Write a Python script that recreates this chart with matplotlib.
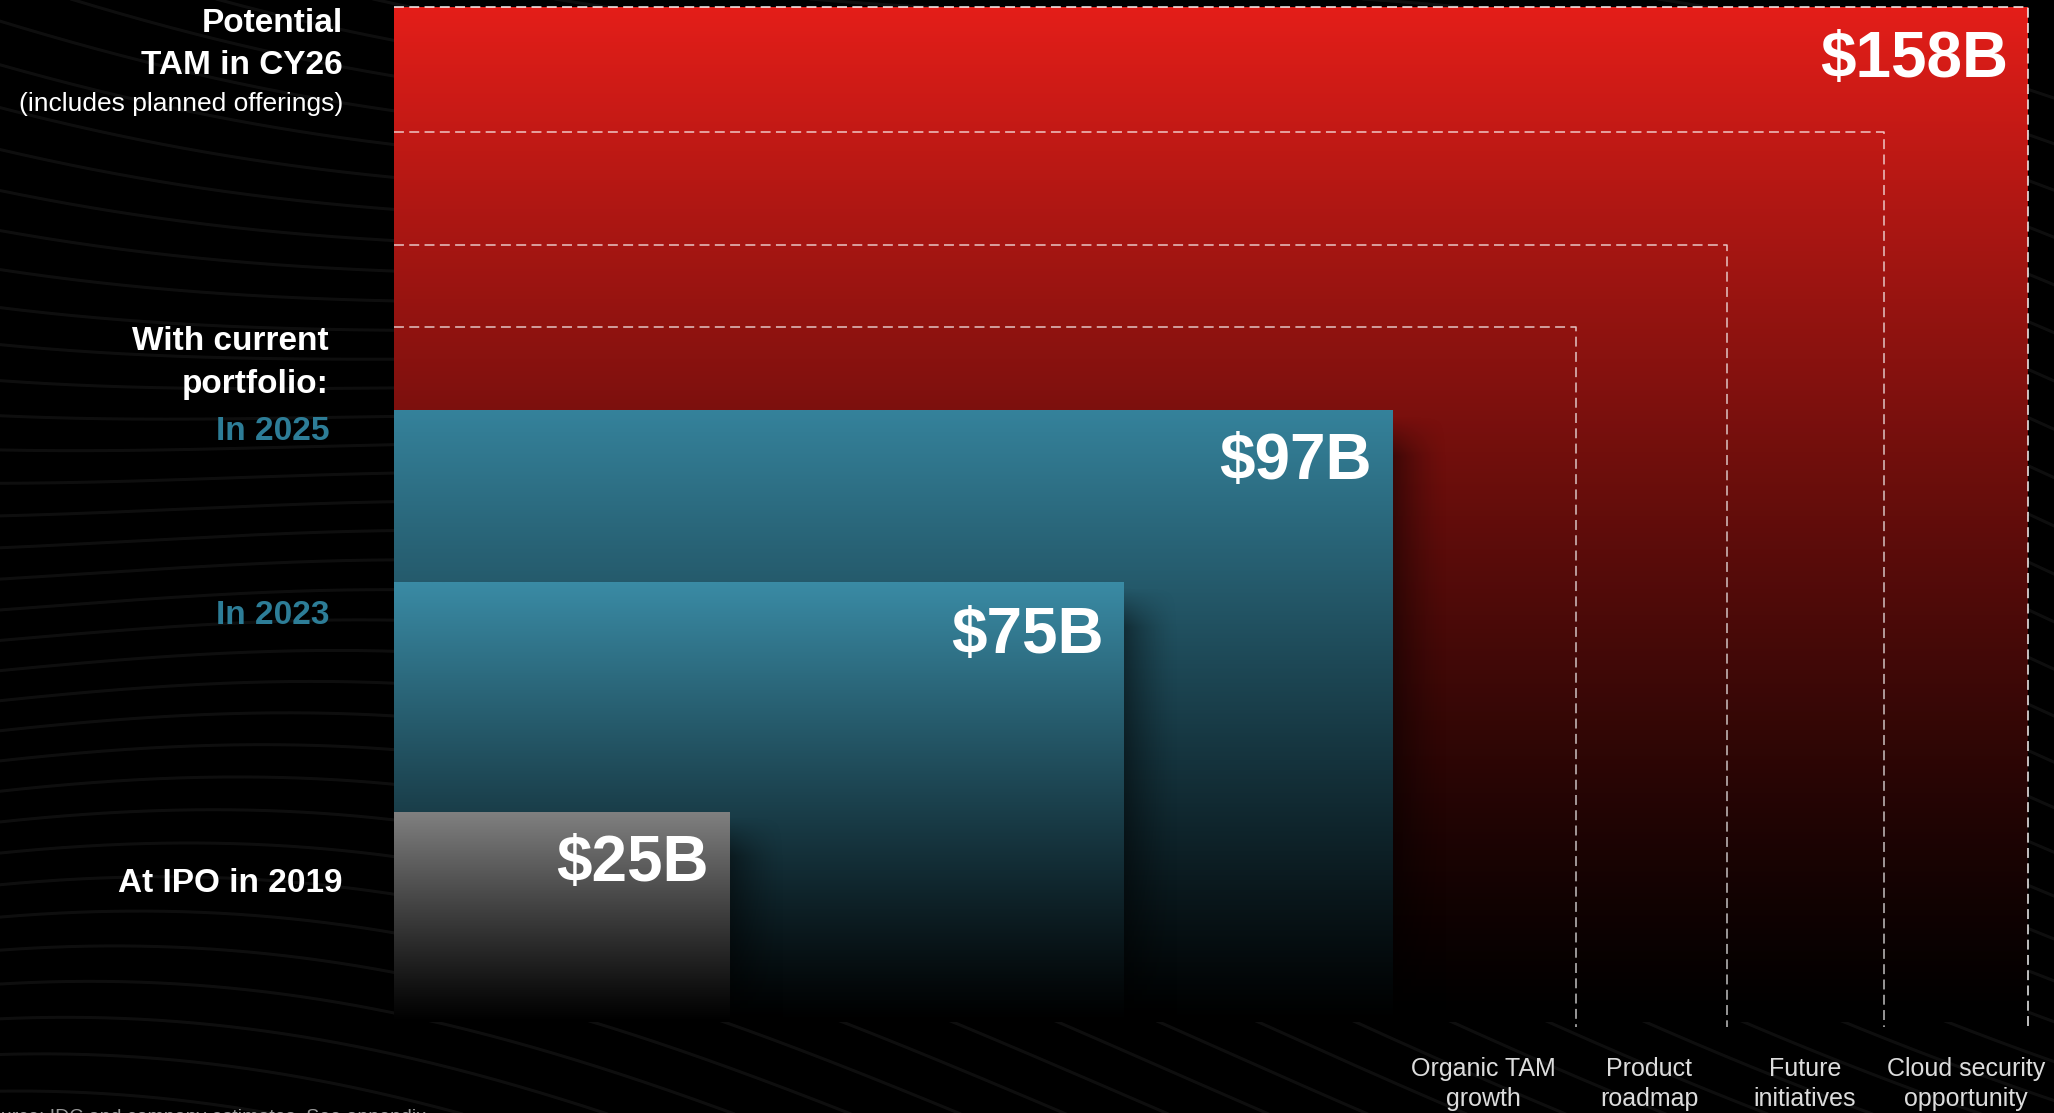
import numpy as np
import matplotlib.pyplot as plt
from matplotlib.colors import to_rgb

# values and labels
tam_values = [158, 97, 75, 25]
value_labels = ['$158B', '$97B', '$75B', '$25B']
driver_labels = ['Organic TAM\ngrowth', 'Product\nroadmap', 'Future\ninitiatives',
                 'Cloud security\nopportunity']
source_text = 'Source: IDC and company estimates. See appendix.'

# layout in pixel coordinates of the slide
W, H = 2054, 1113
left = 394
base = 1022
box_right = [2028, 1393, 1124, 730]
box_top = [7, 410, 582, 812]
box_color = ['#e41e19', '#35829b', '#3a8ba5', '#808080']
step_top = [7, 132, 245, 327]
step_right = [2028, 1884, 1727, 1576]
driver_x = [1483, 1649, 1805, 1966]

fig = plt.figure(figsize=(W / 100, H / 100), dpi=100, facecolor='black')
ax = fig.add_axes([0, 0, 1, 1])
ax.set_facecolor('black')
ax.set_xlim(0, W)
ax.set_ylim(H, 0)
ax.axis('off')

# faint wavy lines in the background
xs = np.linspace(-50, W + 50, 600)
for k in range(42):
    ys = -300 + k * 36 + 0.22 * xs + 70 * np.sin(xs / 380 + k * 0.12) + 0.00006 * (xs - 900) ** 2 * (k / 20)
    ax.plot(xs, ys, color='white', alpha=0.06, lw=2.2, zorder=0, solid_capstyle='round')


def gradient_box(x0, x1, top, color, z, power=1.15):
    n = 400
    f = np.linspace(0, 1, n)
    scale = (1 - f) ** power
    rgb = np.array(to_rgb(color))
    img = np.ones((n, 1, 3)) * rgb[None, None, :] * scale[:, None, None]
    ax.imshow(img, extent=(x0, x1, base, top), origin='upper', aspect='auto',
              interpolation='bilinear', zorder=z)


def shadow(x0, top, z, width=55, strength=0.45):
    n = 200
    ax_h = np.clip(np.linspace(0, (base - top) / 40, n), 0, 1)
    a = strength * (1 - np.linspace(0, 1, n)) ** 1.5
    img = np.zeros((n, n, 4))
    img[:, :, 3] = ax_h[:, None] * a[None, :]
    ax.imshow(img, extent=(x0, x0 + width, base, top + 5), origin='upper', aspect='auto',
              interpolation='bilinear', zorder=z)


# red potential TAM block
gradient_box(left, box_right[0], box_top[0], box_color[0], 1, power=1.2)

# dashed steps
for i, (t, r) in enumerate(zip(step_top, step_right)):
    a = 0.95 if i == 0 else 0.75
    ax.plot([left, r, r], [t, t, base + 5], color='white', alpha=a, lw=1.1,
            linestyle=(0, (6.5, 3.5)), zorder=2)

# current portfolio blocks
for i in range(1, 4):
    shadow(box_right[i], box_top[i], 2 * i + 1)
    gradient_box(left, box_right[i], box_top[i], box_color[i], 2 * i + 2, power=1.1)

# value labels
label_pos = [(2008, 60), (1372, 462), (1104, 636), (709, 864)]
for lab, (x, y) in zip(value_labels, label_pos):
    ax.text(x, y, lab, color='white', fontsize=46, fontweight='bold',
            family='Liberation Sans', ha='right', va='center', zorder=20)

# left-hand row titles
bold = dict(color='white', fontsize=24, fontweight='bold', family='Liberation Sans',
            ha='right', va='center', zorder=20)
teal = '#2d7d97'
ax.text(343, 24, 'Potential', **bold)
ax.text(343, 66, 'TAM in CY26', **bold)
ax.text(343, 104, '(includes planned offerings)', color='white', fontsize=19,
        family='Liberation Sans', ha='right', va='center', zorder=20)
ax.text(329, 342, 'With current', **bold)
ax.text(329, 384, 'portfolio:', **bold)
ax.text(329, 431, 'In 2025', **dict(bold, color=teal))
ax.text(329, 616, 'In 2023', **dict(bold, color=teal))
ax.text(343, 884, 'At IPO in 2019', **bold)

# growth drivers under the steps
for lab, x in zip(driver_labels, driver_x):
    ax.text(x, 1084, lab, color='#dcdcdc', fontsize=18, family='Liberation Sans',
            ha='center', va='center', linespacing=1.3, zorder=20)

ax.text(-23, 1122, source_text, color='#9a9a9a', fontsize=14, family='Liberation Sans',
        ha='left', va='baseline', zorder=20)

fig.savefig('out.png', dpi=100, facecolor='black')
